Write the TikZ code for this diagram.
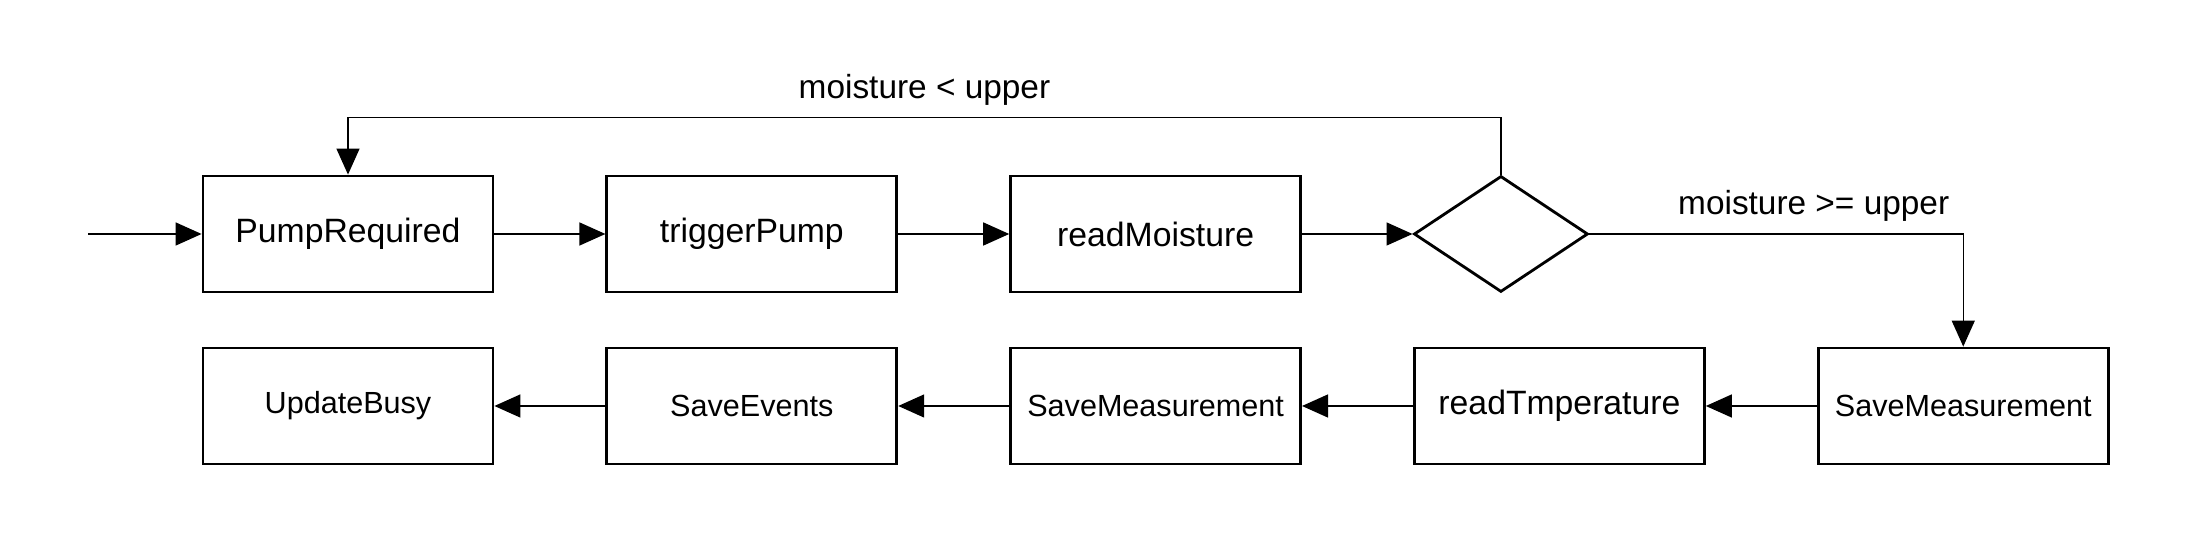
\documentclass[tikz,border=0pt]{standalone}
\usepackage{fontspec}
\setmainfont{Liberation Sans}
\usetikzlibrary{positioning,shapes.geometric,arrows.meta}

\begin{document}
\begin{tikzpicture}[
    node distance=1.11cm,
    task/.style={draw, line width=0.8pt, minimum width=2.9cm,
      minimum height=1.16cm, font=\fontsize{9.6}{11}\selectfont},
    tasksmall/.style={task, font=\fontsize{8.7}{10}\selectfont},
    check/.style={draw, diamond, aspect=1.5, line width=0.8pt,
      minimum width=1.74cm, minimum height=1.16cm, inner sep=0pt},
    flow/.style={-{Triangle[length=2.6mm,width=2.3mm]}, line width=0.4pt},
    guard/.style={font=\fontsize{9.5}{11}\selectfont}
  ]
    \useasboundingbox (0,0) rectangle (21.94,5.52);

    % Top row
    \node[task] (pump) at (3.48,3.18) {PumpRequired};
    \node[task, right=of pump] (trigger) {triggerPump};
    \node[task, right=of trigger] (moist) {readMoisture};
    \node[check, right=1.105cm of moist] (decide) {};

    % Bottom row
    \node[tasksmall] (busy) at (3.48,1.46) {UpdateBusy};
    \node[tasksmall, right=of busy] (events) {SaveEvents};
    \node[tasksmall, right=of events] (savetwo) {SaveMeasurement};
    \node[task, right=of savetwo] (temp) {readTmperature};
    \node[tasksmall, right=of temp] (saveone) {SaveMeasurement};

    % Flow
    \coordinate (start) at (0.88,3.18);
    \draw[flow] (start) -- (pump);
    \draw[flow] (pump) -- (trigger);
    \draw[flow] (trigger) -- (moist);
    \draw[flow] (moist) -- (decide);

    % Branches
    \draw[flow] (decide.north) -- ++(0,0.57)
      -| node[guard, pos=0.25, above=0pt] {moisture < upper} (pump.north);
    \draw[flow] (decide.east)
      -| node[guard, pos=0.3, above=0pt] {moisture >= upper} (saveone.north);

    % Back along the bottom
    \draw[flow] (saveone) -- (temp);
    \draw[flow] (temp) -- (savetwo);
    \draw[flow] (savetwo) -- (events);
    \draw[flow] (events) -- (busy);
\end{tikzpicture}
\end{document}
